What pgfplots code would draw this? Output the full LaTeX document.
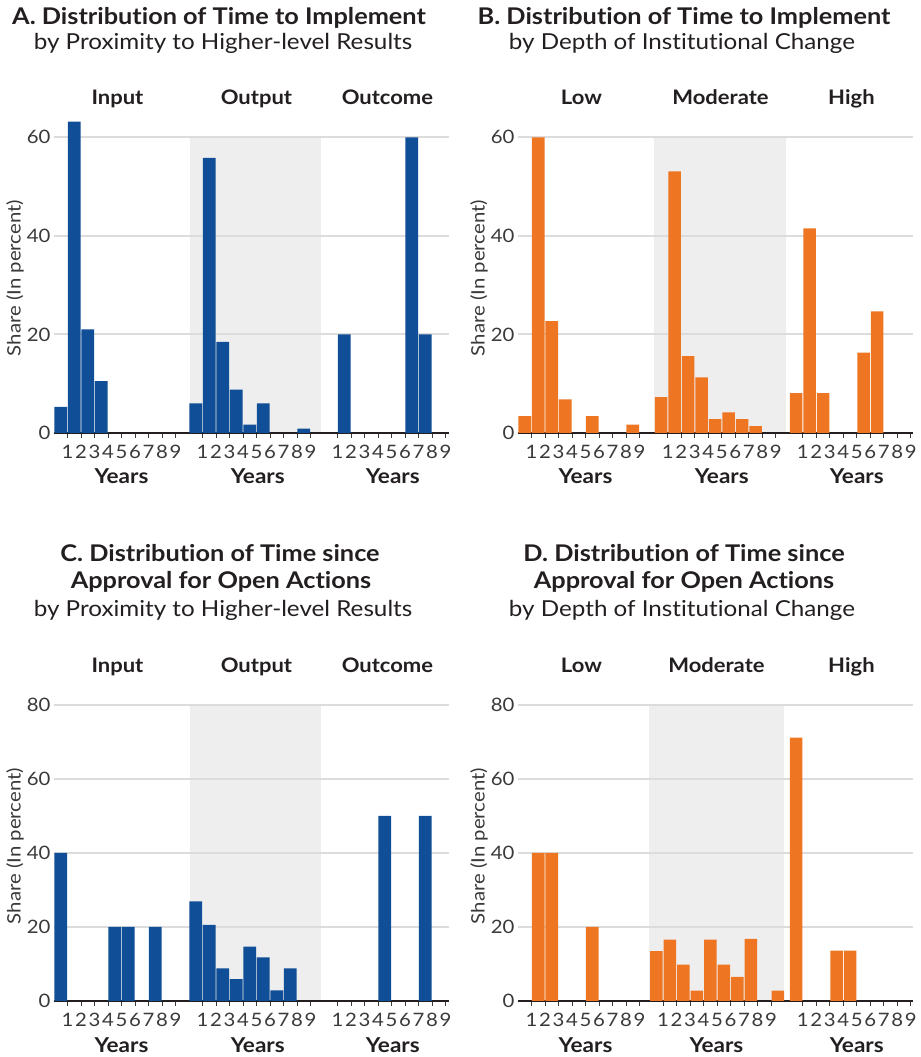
\documentclass[border=0pt]{standalone}
\usepackage{fontspec}
\setmainfont{Lato}[FakeStretch=1.1, Ligatures=NoCommon]
\usepackage{pgfplots}
\usepackage{pgfplotstable}
\pgfplotsset{compat=1.18}

\definecolor{barblue}{HTML}{104F97}
\definecolor{barorange}{HTML}{EE7623}
\definecolor{bandgray}{HTML}{EEEEEE}
\definecolor{gridgray}{HTML}{DCDCDC}
\definecolor{axisdark}{HTML}{231F20}
\definecolor{ticktext}{HTML}{3A3A3A}
\definecolor{titletext}{HTML}{231F20}

\newcommand\titlebf{\fontsize{23}{27}\selectfont\bfseries}
\newcommand\titlereg{\fontsize{22}{26}\selectfont}

% ---- shares (in percent) by years, one table per group ----
% A: time to implement, by proximity to higher-level results
\pgfplotstableread{
yr share
0 5.3
1 63.2
2 21.0
3 10.5
}\AInput
\pgfplotstableread{
yr share
0 6.0
1 55.8
2 18.5
3 8.8
4 1.7
5 6.0
8 0.9
}\AOutput
\pgfplotstableread{
yr share
1 20.0
6 60.0
7 20.0
}\AOutcome
% B: time to implement, by depth of institutional change
\pgfplotstableread{
yr share
0 3.4
1 60.0
2 22.7
3 6.8
5 3.4
8 1.7
}\BLow
\pgfplotstableread{
yr share
0 7.3
1 53.1
2 15.6
3 11.3
4 2.8
5 4.2
6 2.8
7 1.4
}\BModerate
\pgfplotstableread{
yr share
0 8.1
1 41.5
2 8.1
5 16.3
6 24.7
}\BHigh
% C: time since approval for open actions, by proximity
\pgfplotstableread{
yr share
0 40.0
4 20.0
5 20.0
7 20.0
}\CInput
\pgfplotstableread{
yr share
0 26.9
1 20.6
2 8.8
3 5.9
4 14.7
5 11.8
6 2.9
7 8.8
}\COutput
\pgfplotstableread{
yr share
4 50.0
7 50.0
}\COutcome
% D: time since approval for open actions, by depth
\pgfplotstableread{
yr share
1 40.0
2 40.0
5 20.0
}\DLow
\pgfplotstableread{
yr share
0 13.5
1 16.6
2 9.8
3 2.8
4 16.6
5 9.8
6 6.5
7 16.8
9 2.8
}\DModerate
\pgfplotstableread{
yr share
0 71.2
3 13.6
4 13.6
}\DHigh

\pgfplotsset{
  panel/.style={
    set layers,
    scale only axis, width=395pt,
    xmin=0, xmax=29.26, ymin=0,
    clip=false,
    axis x line*=bottom, axis y line*=left,
    separate axis lines,
    x axis line style={draw=axisdark, line width=1.6pt},
    y axis line style={draw=none},
    ytick style={draw=none},
    xtick style={draw=ticktext, line width=0.8pt},
    xtick align=outside, major tick length=5pt,
    ymajorgrids, grid style={draw=gridgray, line width=2pt},
    tick label style={font=\fontsize{18.5}{20}\selectfont, text=ticktext},
    xticklabel style={yshift=-4pt},
    /pgf/number format/assume math mode=true,
    xticklabels={1,2,3,4,5,6,7,8,9,1,2,3,4,5,6,7,8,9,1,2,3,4,5,6,7,8,9},
  },
  bars/.style={ybar, bar width=0.93, bar shift=0, fill=#1, draw=none},
  band/.style={fill=bandgray, draw=none, on layer=axis background},
}
\tikzset{
  grp/.style={anchor=base, yshift=328pt, font=\fontsize{20}{22}\selectfont\bfseries, text=titletext},
  yrs/.style={anchor=base, yshift=-51pt, font=\fontsize{20.5}{23}\selectfont\bfseries, text=titletext},
}

\begin{document}
\begin{tikzpicture}
% page frame
\path (0,0) rectangle (918pt,1057pt);

% ---------------- titles ----------------
\node[anchor=base, font=\titlebf, text=titletext] at (219pt,1032pt) {A. Distribution of Time to Implement};
\node[anchor=base, font=\titlereg, text=titletext] at (223pt,1007pt) {by Proximity to Higher-level Results};
\node[anchor=base, font=\titlebf, text=titletext] at (684pt,1032pt) {B. Distribution of Time to Implement};
\node[anchor=base, font=\titlereg, text=titletext] at (682pt,1007pt) {by Depth of Institutional Change};
\node[anchor=base, font=\titlebf, text=titletext] at (220pt,495pt) {C. Distribution of Time since};
\node[anchor=base, font=\titlebf, text=titletext] at (221pt,468pt) {Approval for Open Actions};
\node[anchor=base, font=\titlereg, text=titletext] at (223pt,440pt) {by Proximity to Higher-level Results};
\node[anchor=base, font=\titlebf, text=titletext] at (684pt,495pt) {D. Distribution of Time since};
\node[anchor=base, font=\titlebf, text=titletext] at (684pt,468pt) {Approval for Open Actions};
\node[anchor=base, font=\titlereg, text=titletext] at (682pt,440pt) {by Depth of Institutional Change};

% y-axis titles
\foreach \px/\py in {15/779, 479/779, 15/211, 479/211}
  \node[rotate=90, font=\fontsize{18.5}{20}\selectfont, text=ticktext] at (\px pt,\py pt) {Share (In percent)};

% ---------------- panel A ----------------
\begin{axis}[panel, at={(54pt,624pt)}, anchor=south west,
  height=295.7pt, ymax=60, ytick={0,20,40,60},
  xtick={1,...,9,11,12,13,14,15,16,17,18,19,21,22,23,24,25,26,27,28,29}]
  \addplot[band] coordinates {(10.05,60) (19.78,60)} \closedcycle;
  \addplot[bars=barblue] table[x expr=\thisrow{yr}+0.5, y=share]{\AInput};
  \addplot[bars=barblue] table[x expr=\thisrow{yr}+10.5, y=share]{\AOutput};
  \addplot[bars=barblue] table[x expr=\thisrow{yr}+20.5, y=share]{\AOutcome};
  \node[grp] at (axis cs:4.7,0) {Input};
  \node[grp] at (axis cs:15,0) {Output};
  \node[grp] at (axis cs:24.7,0) {Outcome};
  \node[yrs] at (axis cs:5,0) {Years};
  \node[yrs] at (axis cs:15.1,0) {Years};
  \node[yrs] at (axis cs:25.1,0) {Years};
\end{axis}

% ---------------- panel B ----------------
\begin{axis}[panel, at={(518pt,624pt)}, anchor=south west,
  height=295.7pt, ymax=60, ytick={0,20,40,60},
  xtick={1,...,9,11.1,12.1,13.1,14.1,15.1,16.1,17.1,18.1,19.1,21.1,22.1,23.1,24.1,25.1,26.1,27.1,28.1,29.1}]
  \addplot[band] coordinates {(10.1,60) (19.83,60)} \closedcycle;
  \addplot[bars=barorange] table[x expr=\thisrow{yr}+0.5, y=share]{\BLow};
  \addplot[bars=barorange] table[x expr=\thisrow{yr}+10.6, y=share]{\BModerate};
  \addplot[bars=barorange] table[x expr=\thisrow{yr}+20.6, y=share]{\BHigh};
  \node[grp] at (axis cs:4.7,0) {Low};
  \node[grp] at (axis cs:15,0) {Moderate};
  \node[grp] at (axis cs:24.7,0) {High};
  \node[yrs] at (axis cs:5,0) {Years};
  \node[yrs] at (axis cs:15.1,0) {Years};
  \node[yrs] at (axis cs:25.1,0) {Years};
\end{axis}

% ---------------- panel C ----------------
\begin{axis}[panel, at={(54pt,56pt)}, anchor=south west,
  height=296pt, ymax=80, ytick={0,20,40,60,80},
  xtick={1,...,9,11,12,13,14,15,16,17,18,19,21,22,23,24,25,26,27,28,29}]
  \addplot[band] coordinates {(10.05,80) (19.78,80)} \closedcycle;
  \addplot[bars=barblue] table[x expr=\thisrow{yr}+0.5, y=share]{\CInput};
  \addplot[bars=barblue] table[x expr=\thisrow{yr}+10.5, y=share]{\COutput};
  \addplot[bars=barblue] table[x expr=\thisrow{yr}+20.5, y=share]{\COutcome};
  \node[grp] at (axis cs:4.7,0) {Input};
  \node[grp] at (axis cs:15,0) {Output};
  \node[grp] at (axis cs:24.7,0) {Outcome};
  \node[yrs] at (axis cs:5,0) {Years};
  \node[yrs] at (axis cs:15.1,0) {Years};
  \node[yrs] at (axis cs:25.1,0) {Years};
\end{axis}

% ---------------- panel D ----------------
\begin{axis}[panel, at={(518pt,56pt)}, anchor=south west,
  height=296pt, ymax=80, ytick={0,20,40,60,80},
  xtick={1,...,9,10.75,11.75,12.75,13.75,14.75,15.75,16.75,17.75,18.75,21.1,22.1,23.1,24.1,25.1,26.1,27.1,28.1,29.1}]
  \addplot[band] coordinates {(9.7,80) (19.7,80)} \closedcycle;
  \addplot[bars=barorange] table[x expr=\thisrow{yr}+0.5, y=share]{\DLow};
  \addplot[bars=barorange] table[x expr=\thisrow{yr}+10.25, y=share]{\DModerate};
  \addplot[bars=barorange] table[x expr=\thisrow{yr}+20.6, y=share]{\DHigh};
  \node[grp] at (axis cs:4.7,0) {Low};
  \node[grp] at (axis cs:14.7,0) {Moderate};
  \node[grp] at (axis cs:24.7,0) {High};
  \node[yrs] at (axis cs:5,0) {Years};
  \node[yrs] at (axis cs:14.7,0) {Years};
  \node[yrs] at (axis cs:25.1,0) {Years};
\end{axis}
\end{tikzpicture}
\end{document}
